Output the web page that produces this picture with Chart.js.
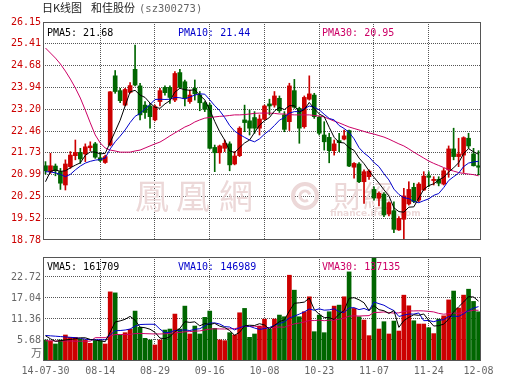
<!DOCTYPE html>
<html><head><meta charset="utf-8">
<script src="https://cdn.jsdelivr.net/npm/chart.js@4.4.1/dist/chart.umd.min.js"></script>
<style>
html,body{margin:0;padding:0;background:#fff;}
body{width:530px;height:391px;position:relative;overflow:hidden;}
canvas{position:absolute;left:0;}
</style></head><body>
<canvas id="kc" width="530" height="248" style="top:0px"></canvas>
<canvas id="vc" width="530" height="143" style="top:248px"></canvas>
<script>
const dates = ['07-30','07-31','08-01','08-04','08-05','08-06','08-07','08-08','08-11','08-12','08-13','08-14','08-15','08-18','08-19','08-20','08-21','08-22','08-25','08-26','08-27','08-28','08-29','09-01','09-02','09-03','09-04','09-05','09-09','09-10','09-11','09-12','09-15','09-16','09-17','09-18','09-19','09-22','09-23','09-24','09-25','09-26','09-29','09-30','10-08','10-09','10-10','10-13','10-14','10-15','10-16','10-17','10-20','10-21','10-22','10-23','10-24','10-27','10-28','10-29','10-30','10-31','11-03','11-04','11-05','11-06','11-07','11-10','11-11','11-12','11-13','11-14','11-17','11-18','11-19','11-20','11-21','11-24','11-25','11-26','11-27','11-28','12-01','12-02','12-03','12-04','12-05','12-08'];
const tickDates = ['07-30','08-14','08-29','09-16','10-08','10-23','11-07','11-24','12-08'];
const tickTexts = ['14-07-30','08-14','08-29','09-16','10-08','10-23','11-07','11-24','12-08'];

const open = [21.29,21.09,21.28,21.09,20.64,21.26,21.63,21.74,21.69,21.90,
22.03,21.56,21.40,21.99,24.33,23.83,23.34,23.77,24.55,23.99,
23.34,23.31,22.84,23.46,23.94,23.94,23.51,24.44,24.13,23.46,
23.91,23.68,23.42,23.34,21.91,21.73,21.88,22.03,21.35,21.63,
22.84,22.81,22.92,22.56,22.86,23.38,23.34,23.57,23.01,22.78,
23.83,23.23,22.61,23.54,23.68,22.93,22.33,22.25,21.80,22.14,
22.19,22.48,21.24,21.35,20.75,20.92,20.49,20.19,20.33,19.66,
19.77,19.12,19.48,20.00,20.56,20.13,20.47,20.95,20.79,20.83,
20.67,21.15,21.86,21.60,21.65,22.22,21.69,21.29];
const high = [21.43,21.71,21.35,21.20,21.49,21.77,22.16,21.88,22.03,22.10,
22.08,21.73,21.65,23.80,24.51,23.91,23.91,24.10,25.37,24.08,
23.46,23.40,23.34,23.91,23.99,23.99,24.47,24.55,24.19,23.85,
24.19,23.80,23.46,23.40,21.99,21.99,22.16,22.10,21.77,22.61,
23.34,23.18,23.12,23.01,23.34,23.54,23.80,23.65,23.12,24.08,
24.21,23.27,23.65,24.33,23.74,22.97,22.78,22.39,22.16,22.39,
22.50,22.50,21.40,21.40,21.15,21.15,20.58,20.41,20.38,20.07,
20.07,19.57,20.53,20.75,20.70,20.72,21.09,21.09,20.92,20.92,
21.20,21.96,22.56,22.22,22.27,22.39,21.88,21.80];
const low = [21.01,21.03,20.95,20.49,20.47,21.20,21.49,21.37,21.43,21.80,
21.54,21.43,21.37,21.96,23.74,23.42,23.31,23.74,23.99,22.84,
22.89,22.56,22.81,23.31,23.68,23.40,23.46,23.91,23.31,23.40,
23.51,23.15,23.12,21.85,21.09,21.37,21.77,21.12,21.32,21.60,
22.44,22.33,22.39,22.33,22.84,23.01,23.27,23.09,22.44,22.48,
23.23,22.05,22.56,23.51,22.89,22.33,21.82,21.39,21.65,21.77,
22.16,21.26,20.87,20.72,20.02,20.83,20.13,19.93,19.57,19.59,
19.03,19.10,18.78,19.96,20.04,20.07,20.45,20.58,20.64,20.61,
20.64,20.90,21.49,21.26,21.06,21.88,21.28,20.98];
const close = [21.12,21.29,21.12,20.70,21.35,21.65,21.74,21.52,21.93,21.96,
21.58,21.47,21.60,23.79,23.80,23.49,23.87,24.00,24.02,23.01,
23.09,22.95,23.29,23.83,23.76,23.60,24.41,23.94,23.57,23.68,
23.72,23.42,23.20,21.88,21.73,21.96,22.05,21.32,21.62,22.56,
22.75,22.56,22.56,22.87,23.31,23.31,23.65,23.15,22.52,23.99,
23.27,22.56,23.60,23.72,22.95,22.39,22.10,21.80,22.03,22.07,
22.30,21.28,21.37,20.75,21.09,21.11,20.20,20.36,19.63,20.04,
19.14,19.51,20.27,20.49,20.08,20.67,20.94,20.90,20.83,20.70,
21.12,21.86,21.60,21.69,22.24,21.96,21.29,21.24];

const ma5 = [20.75,21.10,21.15,21.10,21.12,21.22,21.31,21.39,21.64,21.76,
21.75,21.69,21.71,22.08,22.45,22.83,23.31,23.79,23.84,23.68,
23.60,23.41,23.27,23.23,23.38,23.49,23.78,23.91,23.86,23.84,
23.86,23.67,23.52,23.18,22.79,22.44,22.16,21.79,21.74,21.90,
22.06,22.16,22.41,22.66,22.81,22.92,23.14,23.26,23.19,23.32,
23.32,23.10,23.19,23.43,23.22,23.04,22.95,22.59,22.25,22.08,
22.06,21.90,21.81,21.55,21.36,21.12,20.90,20.70,20.48,20.27,
19.87,19.74,19.72,19.89,19.90,20.20,20.49,20.62,20.68,20.81,
20.90,21.08,21.22,21.39,21.70,21.87,21.76,21.68];
const ma10 = [21.09,21.08,21.05,21.00,20.92,21.00,21.15,21.28,21.38,21.44,
21.48,21.50,21.55,21.86,22.10,22.29,22.50,22.75,22.96,23.06,
23.21,23.36,23.53,23.54,23.53,23.54,23.60,23.59,23.55,23.61,
23.68,23.72,23.71,23.52,23.32,23.15,22.92,22.65,22.46,22.35,
22.25,22.16,22.10,22.20,22.36,22.49,22.65,22.83,22.92,23.07,
23.12,23.12,23.22,23.31,23.27,23.18,23.03,22.89,22.84,22.65,
22.55,22.42,22.20,21.90,21.72,21.59,21.40,21.26,21.02,20.81,
20.50,20.32,20.21,20.18,20.08,20.04,20.11,20.17,20.29,20.35,
20.55,20.79,20.92,21.04,21.26,21.38,21.42,21.44];
const ma30 = [25.27,25.10,24.93,24.73,24.49,24.22,23.92,23.58,23.17,22.74,
22.33,22.06,21.89,21.82,21.79,21.75,21.75,21.75,21.79,21.82,
21.89,21.96,22.03,22.09,22.19,22.30,22.40,22.50,22.60,22.67,
22.77,22.84,22.90,22.92,22.94,22.96,22.97,22.99,23.01,23.01,
23.02,23.04,23.06,23.07,23.07,23.07,23.06,23.04,23.04,23.02,
23.01,23.01,23.01,23.01,22.99,22.97,22.94,22.87,22.80,22.74,
22.67,22.60,22.55,22.50,22.45,22.40,22.36,22.31,22.26,22.19,
22.11,22.03,21.96,21.86,21.75,21.65,21.55,21.45,21.37,21.30,
21.23,21.16,21.11,21.06,21.03,21.01,20.99,20.95];

// volume in 万
const volume = [5.68,5.41,4.60,5.68,7.03,6.40,6.40,5.86,5.68,4.78,
5.50,5.50,4.60,18.68,18.41,7.03,7.65,8.55,13.49,9.10,
6.13,5.68,4.33,5.68,8.37,8.64,12.68,8.64,14.83,7.30,
9.45,7.30,11.79,13.49,8.83,5.68,5.50,7.65,7.03,13.03,
14.21,6.40,7.30,9.45,11.31,8.64,11.33,12.41,11.96,23.18,
19.14,11.96,13.31,17.35,7.92,12.41,7.65,13.31,14.83,15.10,
17.35,24.08,14.20,11.96,11.06,6.85,30.80,8.64,10.62,7.30,
10.79,8.10,17.79,14.92,10.88,9.99,9.99,9.00,7.40,11.30,
12.20,16.50,18.90,14.30,17.80,19.40,16.10,13.30];
const vma5 = [6.8,6.0,5.3,5.5,5.68,5.82,6.02,6.27,6.27,5.82,
5.64,5.46,5.21,7.81,10.54,10.84,11.27,12.06,11.03,9.16,
8.98,8.59,7.75,6.18,6.04,6.54,7.94,8.80,10.63,10.42,
10.58,9.50,10.13,9.87,10.17,9.42,9.06,8.23,6.94,7.78,
9.48,9.66,9.59,10.08,9.73,8.62,9.61,10.63,11.13,13.50,
15.60,15.73,15.91,16.99,13.94,12.59,11.73,11.73,11.22,12.66,
13.65,16.93,17.11,16.54,15.73,13.63,14.97,13.86,13.59,12.84,
13.63,9.09,10.92,11.78,12.50,12.34,12.71,10.96,9.45,9.54,
9.98,11.28,13.26,14.64,15.94,17.38,17.30,16.17];
const vma10 = [6.9,6.8,6.7,6.6,6.5,6.4,6.3,6.1,5.9,5.75,
5.73,5.74,5.74,7.04,8.18,8.24,8.37,8.64,9.42,9.85,
9.91,9.93,9.91,8.61,7.60,7.76,8.27,8.27,8.41,8.23,
8.56,8.72,9.47,10.25,10.30,10.00,9.28,9.18,8.40,8.98,
9.45,9.36,8.91,8.51,8.76,9.05,9.64,10.11,10.60,11.62,
12.11,12.67,13.27,14.06,13.72,14.10,13.73,13.82,14.11,13.30,
13.12,14.33,14.42,13.88,14.20,13.64,15.95,15.49,15.07,14.29,
13.63,12.03,12.39,12.69,12.67,12.98,10.90,10.94,10.62,11.02,
11.16,12.00,12.11,12.05,12.74,13.68,14.29,14.70];
const vma30 = [5.45,5.45,5.4,5.4,5.4,5.4,5.35,5.35,5.35,5.35,
6.3,6.3,6.3,6.75,7.15,7.15,7.15,7.2,7.4,7.45,
7.4,7.35,7.3,7.3,7.35,7.45,7.65,7.7,7.9,7.94,
8.07,8.13,8.37,8.63,8.69,8.67,8.64,8.70,8.74,9.02,
9.31,9.34,9.43,9.12,8.88,8.94,9.06,9.19,9.14,9.61,
10.04,10.25,10.55,10.94,10.92,11.05,10.88,11.04,11.04,11.30,
11.56,12.12,12.20,12.15,12.22,12.26,13.11,13.14,13.26,13.07,
12.95,13.01,13.36,13.54,13.53,13.57,13.53,13.41,13.26,12.87,
12.64,12.79,12.97,12.87,13.20,13.43,13.72,13.71];

const priceTicks = [18.78,19.52,20.25,20.99,21.73,22.46,23.20,23.94,24.68,25.41,26.15];
const volumeTicks = [5.68,11.36,17.04,22.72];
const priceRange = [18.78, 26.15];
const volumeRange = [0, 28.1];

const priceLegend = [['PMA5: 21.68','#000000'],['PMA10: 21.44','#0000cc'],['PMA30: 20.95','#cc0066']];
const volumeLegend = [['VMA5: 161709','#000000'],['VMA10: 146989','#0000cc'],['VMA30: 137135','#cc0066']];

const MONO = "'DejaVu Sans Mono', monospace";
const UP = '#cc0000', DOWN = '#006600';
const C5 = '#000000', C10 = '#0000cc', C30 = '#cc0066';
const GRID = '#555555';
const candleColors = close.map((c, i) => c >= open[i] ? UP : DOWN);
const tickIndex = i => tickDates.indexOf(dates[i]);
const innerTick = i => { const k = tickIndex(i); return k > 0 && k < tickDates.length - 1; };

const decor = {
  id: 'decor',
  beforeDatasetsDraw(chart, args, o) {
    if (!o.watermark) return;
    const ctx = chart.ctx;
    ctx.save();
    const wm = '#ecd8d8';
    ctx.fillStyle = wm; ctx.strokeStyle = wm;
    ctx.textBaseline = 'alphabetic';
    ctx.font = "34px 'Noto Sans CJK TC'";
    ctx.fillText('鳳', 135, 209);
    ctx.fillText('凰', 176, 209);
    ctx.fillText('網', 219, 209);
    ctx.lineWidth = 4;
    ctx.beginPath(); ctx.arc(305, 196, 12, 0, Math.PI * 2); ctx.stroke();
    ctx.lineWidth = 3;
    ctx.beginPath(); ctx.arc(305, 196, 5, Math.PI * 0.3, Math.PI * 1.9); ctx.stroke();
    ctx.font = "30px 'Noto Sans CJK TC'";
    ctx.fillText('財經', 333, 207);
    ctx.font = "bold 9px 'DejaVu Sans'";
    ctx.fillText('finance.ifeng.com', 330, 216);
    ctx.restore();
  },
  afterDraw(chart, args, o) {
    const { ctx, chartArea: a } = chart;
    ctx.save();
    ctx.strokeStyle = '#555'; ctx.lineWidth = 1;
    const x0 = Math.round(a.left) + 0.5, y0 = Math.round(a.top) + 0.5;
    const x1 = Math.round(a.right) - 0.5, y1 = Math.round(a.bottom) - 0.5;
    ctx.strokeRect(x0, y0, x1 - x0, y1 - y0);
    ctx.font = '10px ' + MONO; ctx.textBaseline = 'alphabetic'; ctx.textAlign = 'left';
    const xs = [47, 178, 322];
    o.legend.forEach((l, i) => { ctx.fillStyle = l[1]; ctx.fillText(l[0], xs[i], o.legendY); });
    if (o.title) {
      ctx.fillStyle = '#222';
      ctx.font = "11px 'Noto Sans CJK SC'";
      ctx.fillText('日K线图', 42, 12);
      ctx.fillText('和佳股份', 91, 12);
      ctx.fillStyle = '#666';
      ctx.font = '10.5px ' + MONO;
      ctx.fillText('(sz300273)', 139, 12);
    }
    if (o.unit) {
      ctx.fillStyle = '#666';
      ctx.font = "11px 'Noto Sans CJK SC'";
      ctx.textAlign = 'right';
      ctx.fillText(o.unit, 42, 109);
    }
    ctx.restore();
  }
};

const lineDs = (data, color, order) => ({ type: 'line', data, borderColor: color, borderWidth: 1, pointRadius: 0, tension: 0, fill: false, order });

new Chart(document.getElementById('kc'), {
  type: 'bar',
  data: {
    labels: dates,
    datasets: [
      lineDs(ma5, C5, 1), lineDs(ma10, C10, 2), lineDs(ma30, C30, 3),
      { data: open.map((v, i) => [v, close[i]]), backgroundColor: candleColors, barThickness: 4, grouped: false, minBarLength: 1, order: 4 },
      { data: low.map((v, i) => [v, high[i]]), backgroundColor: candleColors, barThickness: 1, grouped: false, order: 5 }
    ]
  },
  options: {
    responsive: false, animation: false, events: [],
    layout: { padding: { left: 0, right: 49, top: 22, bottom: 8 } },
    plugins: { legend: { display: false }, tooltip: { enabled: false },
      decor: { legend: priceLegend, legendY: 36, watermark: true, title: true } },
    scales: {
      x: { offset: true, grid: { offset: false, drawTicks: false, color: c => innerTick(c.index) ? GRID : 'rgba(0,0,0,0)' },
           border: { display: false, dash: [1, 1] }, ticks: { display: false, autoSkip: false },
           afterFit: s => { s.height = 0; } },
      y: { min: priceRange[0], max: priceRange[1],
           afterBuildTicks: s => { s.ticks = priceTicks.map(v => ({ value: v })); },
           afterFit: s => { s.width = 43; },
           grid: { drawTicks: false, color: c => (c.index > 0 && c.index < priceTicks.length - 1) ? GRID : 'rgba(0,0,0,0)' },
           border: { display: false, dash: [1, 1] },
           ticks: { color: '#cc0000', padding: 2, font: { family: MONO, size: 10 }, callback: v => Number(v).toFixed(2) } }
    }
  },
  plugins: [decor]
});

new Chart(document.getElementById('vc'), {
  type: 'bar',
  data: {
    labels: dates,
    datasets: [
      lineDs(vma5, C5, 1), lineDs(vma10, C10, 2), lineDs(vma30, C30, 3),
      { data: volume, backgroundColor: candleColors, barThickness: 4, grouped: false, order: 4 }
    ]
  },
  options: {
    responsive: false, animation: false, events: [],
    layout: { padding: { left: 0, right: 49, top: 9, bottom: 0 } },
    plugins: { legend: { display: false }, tooltip: { enabled: false },
      decor: { legend: volumeLegend, legendY: 22, unit: '万' } },
    scales: {
      x: { offset: true, grid: { offset: false, drawTicks: false, color: c => innerTick(c.index) ? GRID : 'rgba(0,0,0,0)' },
           border: { display: false, dash: [1, 1] },
           ticks: { autoSkip: false, maxRotation: 0, minRotation: 0, padding: 4, color: '#666', font: { family: MONO, size: 10 },
                    callback: (v, i) => { const k = tickIndex(i); return k >= 0 ? tickTexts[k] : ''; } },
           afterFit: s => { s.height = 30; } },
      y: { min: volumeRange[0], max: volumeRange[1],
           afterBuildTicks: s => { s.ticks = volumeTicks.map(v => ({ value: v })); },
           afterFit: s => { s.width = 43; },
           grid: { drawTicks: false, color: GRID },
           border: { display: false, dash: [1, 1] },
           ticks: { color: '#666', padding: 2, font: { family: MONO, size: 10 }, callback: v => Number(v).toFixed(2) } }
    }
  },
  plugins: [decor]
});
</script>
</body></html>
